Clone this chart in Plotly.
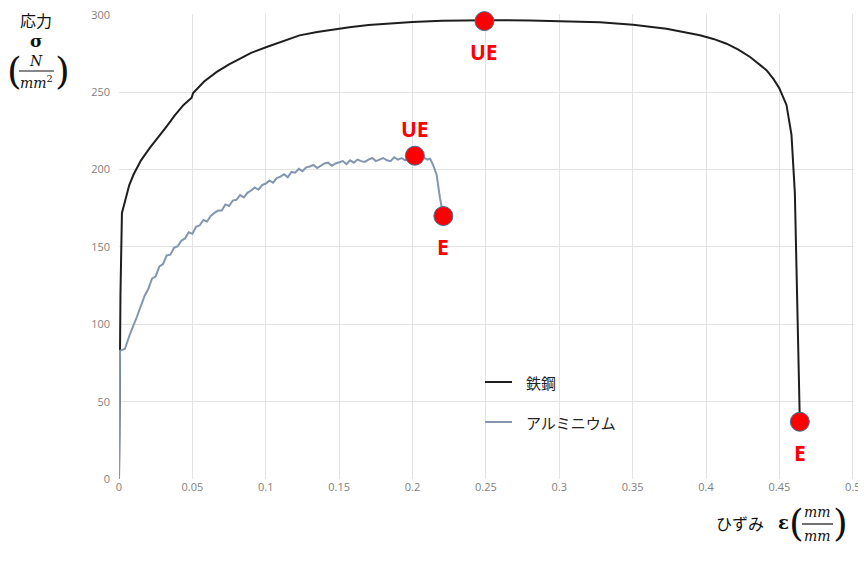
import plotly.graph_objects as go

# 鉄鋼 (steel) stress-strain curve
steel_strain = [0, 0.001, 0.002, 0.004, 0.007, 0.01, 0.015, 0.021, 0.027, 0.0325, 0.038, 0.044,
                0.0495, 0.0505, 0.058, 0.0666, 0.075, 0.0824, 0.09, 0.1006, 0.11, 0.123, 0.135,
                0.146, 0.157, 0.17, 0.185, 0.2, 0.22, 0.25, 0.28, 0.3, 0.3277, 0.3503, 0.373,
                0.3958, 0.405, 0.414, 0.422, 0.43, 0.436, 0.4412, 0.446, 0.45, 0.4548, 0.4582,
                0.4605, 0.462, 0.4634, 0.4639]
steel_stress = [0, 120, 172, 180, 190, 197, 206, 214, 221, 228, 235, 241.8,
                246.5, 249.5, 257, 263.2, 268, 271.8, 275.5, 279.3, 282.5, 286.8, 289,
                290.7, 292.1, 293.5, 294.6, 295.4, 296.2, 296.6, 296.4, 296, 295.2, 293.6, 291,
                286.8, 284.5, 281.4, 277.5, 272.8, 268.5, 264.3, 258.5, 252.4, 241.8, 222.5,
                185, 128, 63.7, 37]

# アルミニウム (aluminium) stress-strain curve, noisy measurement
al_strain = [0, 0.0007, 0.004, 0.0075, 0.012, 0.0166,
             0.0175, 0.02, 0.0225, 0.025, 0.0275, 0.03, 0.0325, 0.035, 0.0375, 0.04,
             0.0425, 0.045, 0.0475, 0.05, 0.0525, 0.055, 0.0575, 0.06, 0.0625, 0.065,
             0.0675, 0.07, 0.0725, 0.075, 0.0775, 0.08, 0.0825, 0.085, 0.0875, 0.09,
             0.0925, 0.095, 0.0975, 0.1, 0.1025, 0.105, 0.1075, 0.11, 0.1125, 0.115,
             0.1175, 0.12, 0.1225, 0.125, 0.1275, 0.13, 0.1325, 0.135, 0.1375, 0.14,
             0.1425, 0.145, 0.1475, 0.15, 0.1525, 0.155, 0.1575, 0.16, 0.1625, 0.165,
             0.1675, 0.17, 0.1725, 0.175, 0.1775, 0.18, 0.1825, 0.185, 0.1875, 0.19,
             0.1925, 0.195, 0.1975, 0.2, 0.2025, 0.205, 0.2075, 0.21,
             0.212, 0.214, 0.2164, 0.2187, 0.221]
al_stress = [0, 83, 84, 93.7, 104.4, 115.2,
             118.5, 123, 129.5, 131, 137.5, 139, 144.5, 145, 149.5, 150.5,
             154, 155.5, 159.5, 158.5, 163, 164, 167.5, 166.5, 170, 172,
             173.5, 173.5, 177.5, 176.5, 180, 180.5, 183.5, 182, 185, 186.5,
             188.5, 187, 190, 191, 193, 191.5, 194.5, 195.5, 197, 195,
             198.5, 198, 200.5, 199, 201.5, 202, 203, 201, 202.5, 204,
             204.5, 202.5, 204, 205, 205.5, 203.5, 206, 204.5, 206.5, 205.5,
             205, 206.5, 207.5, 205.5, 206.5, 207.5, 206, 205.5, 208, 206.5,
             207.5, 206, 207, 208, 206.5, 207.5, 208, 206.5,
             207, 203, 196.7, 181.7, 170]

# marked points: ultimate (UE) and fracture (E)
point_strain = [0.249, 0.4639, 0.2016, 0.221]
point_stress = [296, 37, 209, 170]
point_labels = ["UE", "E", "UE", "E"]
label_below = [True, True, False, True]

x_ticks = [0, 0.05, 0.1, 0.15, 0.2, 0.25, 0.3, 0.35, 0.4, 0.45, 0.5]
x_tick_text = ["0", "0.05", "0.1", "0.15", "0.2", "0.25", "0.3", "0.35", "0.4", "0.45", "0.5"]
y_ticks = [0, 50, 100, 150, 200, 250, 300]

# the page body adds an 8px margin round the figure
OFF = 8
W, H = 866 - OFF, 561 - OFF
L, R, T, B = 119 - OFF, 12, 14 - OFF, 82
PW, PH = W - L - R, H - T - B


def px(x, y):
    # pixel position in the page -> paper coordinates
    return (x - OFF - L) / PW, (H - B - (y - OFF)) / PH


fig = go.Figure()

fig.add_trace(go.Scatter(x=steel_strain, y=steel_stress, mode="lines",
                         line=dict(color="#1e1e1e", width=2), name="鉄鋼"))
fig.add_trace(go.Scatter(x=al_strain, y=al_stress, mode="lines",
                         line=dict(color="#8296b0", width=2), name="アルミニウム"))
fig.add_trace(go.Scatter(x=point_strain, y=point_stress, mode="markers", cliponaxis=False,
                         marker=dict(size=19, color="#ff0000", line=dict(color="#41719c", width=1)),
                         showlegend=False))
for xv, yv, lab, below in zip(point_strain, point_stress, point_labels, label_below):
    fig.add_annotation(x=xv, y=yv, text=lab, showarrow=False, yshift=-31 if below else 27,
                       font=dict(family="Open Sans", size=21, color="#ff0000", weight="bold"))

grid = "#e3e3e3"
tick_font = dict(family="Open Sans", size=11, color="#7f7f7f")
# ranges padded a hair so the gridlines at 0.5 and 300 are still drawn
fig.update_xaxes(range=[0, 0.5008], tickvals=x_ticks, ticktext=x_tick_text, showgrid=True,
                 gridcolor=grid, gridwidth=1, zeroline=False, showline=False,
                 tickfont=tick_font, ticks="", automargin=False, ticklabeloverflow="allow")
fig.update_yaxes(range=[0, 300.6], tickvals=y_ticks, showgrid=True, gridcolor=grid, gridwidth=1,
                 zeroline=False, showline=False, tickfont=tick_font, ticks="",
                 ticklabelstandoff=8, automargin=False, ticklabeloverflow="allow")

# legend drawn by hand: white box over the grid
bx0, by0 = px(452, 440)
bx1, by1 = px(668, 365)
fig.add_shape(type="rect", xref="paper", yref="paper", x0=bx0, x1=bx1, y0=by0, y1=by1,
              fillcolor="white", line_width=0, layer="between")
legend_rows = [("鉄鋼", "#1e1e1e", 382), ("アルミニウム", "#8296b0", 422)]
for name, col, py in legend_rows:
    lx0, yy = px(485, py)
    lx1, _ = px(512, py)
    tx, _ = px(524, py)
    fig.add_shape(type="line", xref="paper", yref="paper", x0=lx0, x1=lx1, y0=yy, y1=yy,
                  line=dict(color=col, width=2))
    fig.add_annotation(xref="paper", yref="paper", x=tx, y=yy, text=name,
                       showarrow=False, xanchor="left", yanchor="middle",
                       font=dict(family="Noto Sans CJK JP", size=15, color="#222"))

# axis titles
txt = dict(family="Noto Sans CJK JP", size=16, color="#111")
math = dict(family="DejaVu Serif", size=14, color="#111")
paren = dict(family="DejaVu Serif", size=38, color="#111")
labels = [
    ("応力", 36, 20, dict(family="Noto Sans CJK JP", size=16, color="#111")),
    ("<b>σ</b>", 36, 41, dict(family="DejaVu Serif", size=17, color="#111")),
    ("<i>N</i>", 36, 61, math),
    ("<i>mm</i><sup>2</sup>", 36, 82, math),
    ("(", 15, 71, paren),
    (")", 62, 71, paren),
    ("ひずみ", 740, 523, txt),
    ("<b>ε</b>", 783, 522, dict(family="DejaVu Serif", size=18, color="#111")),
    ("<i>mm</i>", 817, 512, math),
    ("<i>mm</i>", 817, 536, math),
    ("(", 796, 523, paren),
    (")", 840, 523, paren),
]
for t, x, y, f in labels:
    ax, ay = px(x, y)
    fig.add_annotation(xref="paper", yref="paper", x=ax, y=ay, text=t, showarrow=False,
                       xanchor="center", yanchor="middle", font=f)

# fraction bars
for x0, x1, y in [(19, 54, 71), (802, 833, 524)]:
    a0, b = px(x0, y)
    a1, _ = px(x1, y)
    fig.add_shape(type="line", xref="paper", yref="paper", x0=a0, x1=a1, y0=b, y1=b,
                  line=dict(color="#111", width=1.2))

fig.update_layout(width=W, height=H, margin=dict(l=L, r=R, t=T, b=B),
                  plot_bgcolor="white", paper_bgcolor="white", showlegend=False)

fig.write_html("out.html")
